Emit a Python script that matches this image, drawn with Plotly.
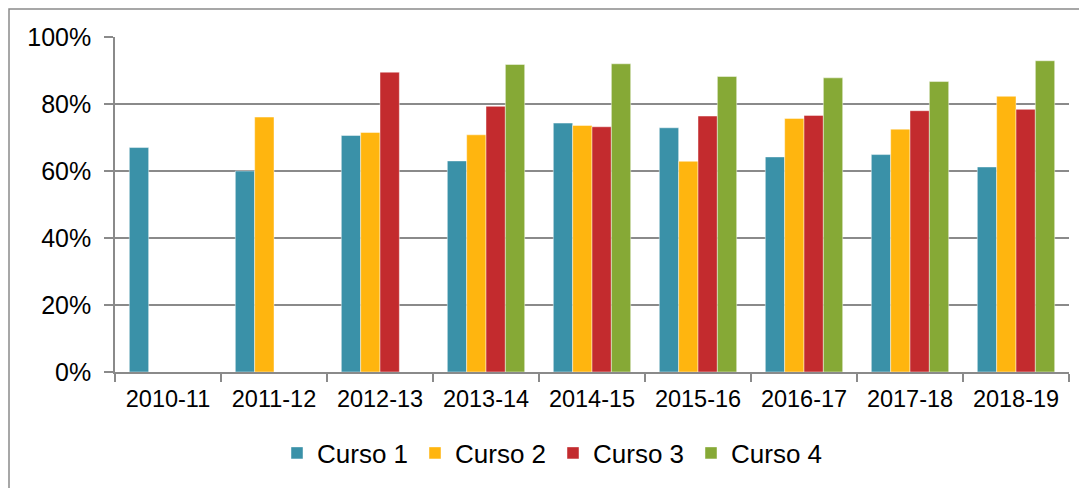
import plotly.graph_objects as go

categories = ["2010-11", "2011-12", "2012-13", "2013-14", "2014-15",
              "2015-16", "2016-17", "2017-18", "2018-19"]
curso1 = [0.670, 0.600, 0.706, 0.630, 0.743, 0.729, 0.642, 0.649, 0.612]
curso2 = [None, 0.761, 0.715, 0.708, 0.736, 0.629, 0.757, 0.725, 0.823]
curso3 = [None, None, 0.895, 0.793, 0.732, 0.764, 0.766, 0.780, 0.784]
curso4 = [None, None, None, 0.918, 0.920, 0.882, 0.878, 0.867, 0.929]
series_names = ["Curso 1", "Curso 2", "Curso 3", "Curso 4"]
colors = ["#3A91A8", "#FFB50F", "#C32B2E", "#86A936"]

fig = go.Figure()
for name, vals, col in zip(series_names, [curso1, curso2, curso3, curso4], colors):
    fig.add_trace(go.Bar(
        x=categories, y=vals, name=name,
        marker=dict(color=col, line=dict(color="rgba(255,255,255,0.45)", width=1)),
    ))

# page has an 8px body margin; compensate
OFF = 8
W, H = 1087 - OFF, 488 - OFF
L, R, T, B = 115 - OFF, 18, 37 - OFF, 116
pw, ph = W - L - R, H - T - B
base = H - B  # y pixel (figure coords) of 0%

fig.update_layout(
    width=W, height=H,
    margin=dict(l=L, r=R, t=T, b=B),
    paper_bgcolor="white", plot_bgcolor="white",
    barmode="group", bargap=0.27, bargroupgap=0,
    font=dict(family="Liberation Sans, Arial, sans-serif", color="black"),
    showlegend=True,
    legend=dict(
        orientation="h", x=(553 - OFF - L) / pw, xanchor="center",
        y=(base - (453 - OFF)) / ph, yanchor="middle",
        font=dict(size=26), entrywidth=93, entrywidthmode="pixels",
        itemclick=False,
    ),
    xaxis=dict(
        type="category", showline=True, linecolor="#8a8a8a", linewidth=1.5,
        ticks="outside", tickson="boundaries", ticklen=8, tickcolor="#8a8a8a",
        tickwidth=1.5, tickfont=dict(size=23.5), showgrid=False,
        ticklabelstandoff=5,
    ),
    yaxis=dict(
        range=[0, 1], dtick=0.2, tickformat=".0%",
        showline=True, linecolor="#8a8a8a", linewidth=1.5,
        ticks="outside", ticklen=9, tickcolor="#8a8a8a", tickwidth=1.5,
        showgrid=True, gridcolor="#8a8a8a", gridwidth=1.5,
        zeroline=False, tickfont=dict(size=25), ticklabelstandoff=8,
    ),
    shapes=[dict(
        type="rect", xref="paper", yref="paper",
        x0=(1 - L) / pw, x1=(W + 10 - L) / pw,
        y0=(base - (H + 10)) / ph, y1=(base - 1) / ph,
        line=dict(color="#8a8a8a", width=1.5), fillcolor="rgba(0,0,0,0)",
        layer="below",
    )],
)

fig.write_html("out.html")
